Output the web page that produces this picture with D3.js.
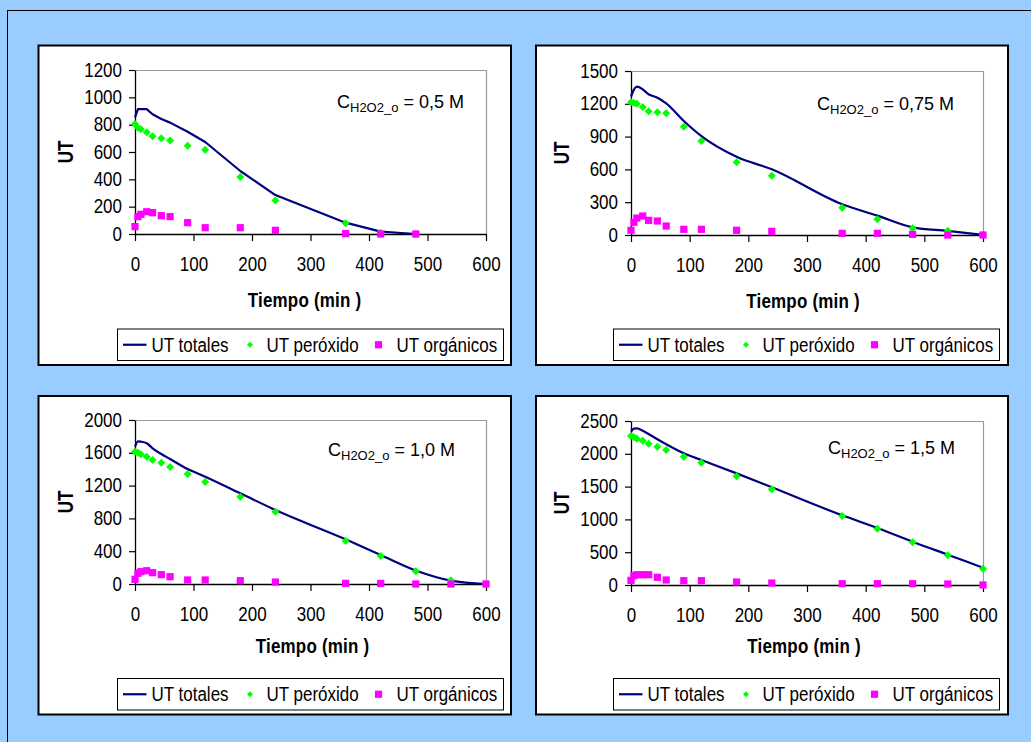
<!DOCTYPE html>
<html><head><meta charset="utf-8">
<script src="https://cdn.jsdelivr.net/npm/d3@7"></script>
<style>
body{margin:0;background:#99CCFF;}
svg{display:block;font-family:"Liberation Sans",Arial,sans-serif;}
</style>
</head><body>
<svg id="chart" width="1031" height="742"></svg>
<script>
// ---------- DATA ----------
const times = [0,5,10,20,30,45,60,90,120,180,240,360,420,480,540,600];
const xTicks = [0,100,200,300,400,500,600];
const concLabels = ["0,5","0,75","1,0","1,5"];
const yTicks05  = [0,200,400,600,800,1000,1200];
const yTicks075 = [0,300,600,900,1200,1500];
const yTicks10  = [0,400,800,1200,1600,2000];
const yTicks15  = [0,500,1000,1500,2000,2500];
const legendLabels = ["UT totales","UT peróxido","UT orgánicos"];
const xTitle = "Tiempo (min )";
const yTitle = "UT";

// C = 0,5 M (t = 0 ... 480)
const totales05   = [853,914,914,914,876,841,815,748,673,461,285,83,17,0];
const peroxido05  = [805,778,766,744,715,700,685,646,617,417,246,78,10,0];
const organicos05 = [54,127,144,163,156,134,127,83,46,46,27,3,0,0];
// C = 0,75 M
const totales075   = [1265,1330,1357,1332,1287,1256,1204,1043,905,716,601,281,177,70,37,0];
const peroxido075  = [1214,1208,1201,1171,1131,1122,1113,991,860,665,543,250,143,61,40,0];
const organicos075 = [43,116,155,174,134,128,82,52,52,43,34,15,15,6,0,0];
// C = 1,0 M
const totales10   = [1675,1740,1736,1716,1655,1585,1524,1402,1309,1106,902,545,354,165,41,0];
const peroxido10  = [1613,1601,1581,1553,1512,1480,1427,1341,1244,1065,882,524,341,154,45,0];
const organicos10 = [57,130,150,162,138,114,89,49,49,41,24,8,8,0,0,0];
// C = 1,5 M
const totales15   = [2337,2385,2388,2352,2302,2221,2145,2007,1905,1702,1489,1062,869,660,462,264];
const peroxido15  = [2271,2251,2230,2200,2154,2108,2058,1956,1865,1657,1459,1052,858,650,452,249];
const organicos15 = [71,142,157,157,157,117,76,66,66,46,30,20,20,20,15,0];

const panelsData = [
  {conc:concLabels[0], ticks:yTicks05,  tot:totales05,  per:peroxido05,  org:organicos05},
  {conc:concLabels[1], ticks:yTicks075, tot:totales075, per:peroxido075, org:organicos075},
  {conc:concLabels[2], ticks:yTicks10,  tot:totales10,  per:peroxido10,  org:organicos10},
  {conc:concLabels[3], ticks:yTicks15,  tot:totales15,  per:peroxido15,  org:organicos15}
];

// ---------- LAYOUT ----------
const layout = [
  {box:[38.5,45.5,472.5,319.5], plot:[135,486,70,234], ann:[337,108], titleDy:73, titleDx:-6},
  {box:[536,45.5,472,319.5],    plot:[631,983,71,235], ann:[817,110], titleDy:73, titleDx:-4},
  {box:[38.5,396,472.5,318.5],  plot:[135,486,420,584], ann:[328,455.5], titleDy:69, titleDx:2},
  {box:[536,396,472,318.5],     plot:[631,983,421,585], ann:[828,454], titleDy:68, titleDx:-3}
];

const COL_LINE = "#000080", COL_PER = "#00FF00", COL_ORG = "#FF00FF";
const VS = 1.15; // vertical text stretch

const svg = d3.select("#chart");
svg.append("rect").attr("x",0).attr("y",0).attr("width",1031).attr("height",742).attr("fill","#99CCFF");
svg.append("rect").attr("x",7.5).attr("y",10.5).attr("width",1100).attr("height",800)
   .attr("fill","none").attr("stroke","#000").attr("stroke-width",1);

const diamond = s => `M0,${-s}L${s},0L0,${s}L${-s},0Z`;

panelsData.forEach((pd, i) => {
  const lo = layout[i];
  const [bx,by,bw,bh] = lo.box;
  const [L,R,T,B] = lo.plot;
  const g = svg.append("g");
  g.append("rect").attr("x",bx).attr("y",by).attr("width",bw).attr("height",bh)
    .attr("fill","#fff").attr("stroke","#000").attr("stroke-width",2);

  const x = d3.scaleLinear().domain([0,600]).range([L,R]);
  const y = d3.scaleLinear().domain([0,d3.max(pd.ticks)]).range([B,T]);

  // plot-area border (gray, top & right)
  g.append("path").attr("d",`M${L},${T+0.5}H${R+0.5}V${B}`)
    .attr("fill","none").attr("stroke","#9a9a9a").attr("stroke-width",1.2);

  // axes
  const ya = g.append("g").attr("transform",`translate(${L},0)`)
    .call(d3.axisLeft(y).tickValues(pd.ticks).tickSize(6).tickSizeOuter(0).tickPadding(7).tickFormat(d3.format("d")));
  const xa = g.append("g").attr("transform",`translate(0,${B})`)
    .call(d3.axisBottom(x).tickValues(xTicks).tickSize(7).tickSizeOuter(0).tickFormat(d3.format("d")));
  [ya,xa].forEach(a=>{
    a.select(".domain").attr("stroke","#000").attr("stroke-width",1.3);
    a.selectAll(".tick line").attr("stroke","#000").attr("stroke-width",1.2);
    a.selectAll(".tick text").attr("font-size",17).attr("fill","#000")
      .attr("font-family","'Liberation Sans',Arial,sans-serif");
  });
  ya.selectAll(".tick text").attr("dy",null).attr("y",5.3).attr("transform",`scale(1,${VS})`);
  xa.selectAll(".tick text").attr("dy",null).attr("y",32).attr("transform",`scale(1,${VS})`);

  // axis titles
  g.append("text").attr("transform",`translate(${(L+R)/2+lo.titleDx},${B+lo.titleDy}) scale(1,${VS})`)
    .attr("text-anchor","middle").attr("font-size",17).attr("font-weight","bold")
    .attr("letter-spacing","0.2").text(xTitle);
  g.append("text").attr("transform",`translate(${L-69.5+7.5},${(T+B)/2}) rotate(-90) scale(1,1.3)`)
    .attr("text-anchor","middle").attr("font-size",17).attr("font-weight","bold").text(yTitle);

  // annotation
  const an = g.append("text").attr("x",lo.ann[0]).attr("y",lo.ann[1]).attr("font-size",18);
  an.append("tspan").text("C");
  an.append("tspan").attr("font-size",13).attr("dy",4).text("H2O2_o");
  an.append("tspan").attr("dy",-4).text(` = ${pd.conc} M`);

  // series
  const tt = times.slice(0, pd.tot.length);
  const line = d3.line().x((d,k)=>x(tt[k])).y(d=>y(d))
    .curve(i===0 ? d3.curveLinear : d3.curveMonotoneX);
  g.append("path").datum(pd.tot).attr("d",line).attr("fill","none")
    .attr("stroke",COL_LINE).attr("stroke-width",2.2).attr("stroke-linejoin","round");

  g.selectAll(".per").data(pd.per).enter().append("path")
    .attr("d",diamond(4)).attr("fill",COL_PER)
    .attr("transform",(d,k)=>`translate(${x(tt[k])},${y(d)})`);
  g.selectAll(".org").data(pd.org).enter().append("rect")
    .attr("x",(d,k)=>x(tt[k])-3.6).attr("y",d=>y(d)-3.6)
    .attr("width",7.2).attr("height",7.2).attr("fill",COL_ORG);

  // legend
  const lx = L-17.5, ly = by+bh-36, lh = 31.5;
  const lg = g.append("g");
  lg.append("rect").attr("x",lx).attr("y",ly).attr("width",386).attr("height",lh)
    .attr("fill","#fff").attr("stroke","#000").attr("stroke-width",1);
  const cy = ly + lh/2;
  lg.append("line").attr("x1",lx+5.5).attr("x2",lx+29).attr("y1",cy).attr("y2",cy)
    .attr("stroke",COL_LINE).attr("stroke-width",2.2);
  lg.append("path").attr("d",diamond(3)).attr("fill",COL_PER).attr("transform",`translate(${lx+132.5},${cy})`);
  lg.append("rect").attr("x",lx+261-3.6).attr("y",cy-3.6).attr("width",7.2).attr("height",7.2).attr("fill",COL_ORG);
  [[34,0],[149,1],[279,2]].forEach(([dx,k])=>{
    lg.append("text").attr("transform",`translate(${lx+dx},${cy+7}) scale(1,${VS})`)
      .attr("font-size",17).text(legendLabels[k]);
  });
});
</script>
</body></html>
